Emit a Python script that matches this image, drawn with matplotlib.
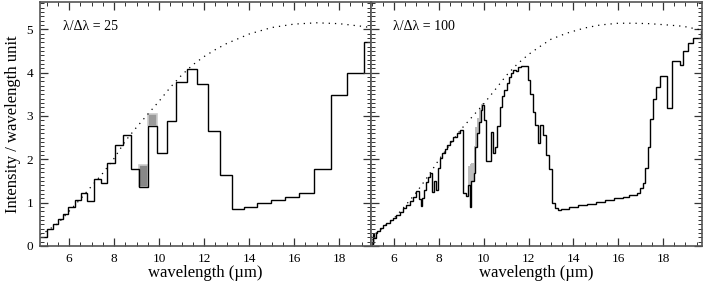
import matplotlib
matplotlib.use("Agg")
import matplotlib.pyplot as plt
from matplotlib.ticker import MultipleLocator

plt.rcParams['font.family'] = ['Liberation Serif', 'DejaVu Serif']

# dotted reference curve, left panel
x_curve_25 = [4.71, 5.0, 5.5, 6.0, 6.5, 7.0, 7.5, 8.0, 8.5, 9.0, 9.5, 10.0, 10.5, 11.0,
              11.5, 12.0, 12.5, 13.0, 14.0, 15.0, 16.0, 17.0, 18.0, 19.0, 19.42]
y_curve_25 = [0.26, 0.34, 0.52, 0.8, 1.08, 1.38, 1.68, 2.02, 2.42, 2.74, 3.04, 3.34, 3.66, 3.94,
              4.18, 4.37, 4.53, 4.67, 4.89, 5.04, 5.12, 5.15, 5.13, 5.07, 5.04]
# dotted reference curve, right panel
x_curve_100 = [4.97, 5.3, 6.0, 6.5, 7.0, 7.5, 8.0, 8.5, 9.0, 9.5, 10.0, 10.5, 11.0, 11.5,
               12.0, 12.5, 13.0, 13.7, 14.5, 15.2, 16.0, 16.7, 17.4, 18.2, 18.9, 19.74]
y_curve_100 = [0.2, 0.34, 0.64, 0.93, 1.24, 1.6, 1.99, 2.35, 2.7, 2.99, 3.28, 3.6, 3.93, 4.2,
               4.42, 4.6, 4.77, 4.91, 5.03, 5.1, 5.14, 5.14, 5.13, 5.1, 5.07, 4.98]

# lambda/dlambda = 25 spectrum (bin edges + values)
edges_25 = [4.71, 5.0, 5.27, 5.52, 5.75, 5.97, 6.27, 6.52, 6.81, 7.11, 7.41, 7.7, 8.04, 8.41,
            8.75, 9.12, 9.52, 9.92, 10.34, 10.75, 11.23, 11.7, 12.19, 12.71, 13.26, 13.79,
            14.37, 14.96, 15.6, 16.23, 16.9, 17.63, 18.34, 19.1, 19.42]
vals_25 = [0.2, 0.39, 0.51, 0.62, 0.74, 0.89, 1.05, 1.23, 1.04, 1.54, 1.45, 1.91, 2.32, 2.55,
           1.77, 1.35, 2.77, 2.15, 2.89, 3.79, 4.08, 3.73, 2.66, 1.64, 0.85, 0.91, 0.99, 1.05,
           1.12, 1.22, 1.78, 3.49, 3.99, 4.70]
# grey boxes on the 25 panel
box_edges = [9.12, 9.52, 9.92]
box_low = [1.35, 2.77]
box_high = [1.87, 3.05]

# lambda/dlambda = 100 spectrum
edges_100 = [5.0, 5.04, 5.08, 5.12, 5.18, 5.24, 5.35, 5.5, 5.65, 5.8, 5.95, 6.1, 6.25, 6.4,
             6.55, 6.7, 6.85, 7.0, 7.1, 7.18, 7.26, 7.34, 7.42, 7.5, 7.6, 7.7, 7.78, 7.88,
             7.96, 8.05, 8.15, 8.25, 8.35, 8.5, 8.65, 8.8, 8.95, 9.06, 9.2, 9.3, 9.38, 9.45,
             9.55, 9.62, 9.7, 9.78, 9.86, 9.94, 10.02, 10.08, 10.31, 10.4, 10.5, 10.61, 10.73,
             10.82, 10.92, 11.02, 11.12, 11.22, 11.32, 11.44, 11.55, 11.65, 11.99, 12.08,
             12.18, 12.3, 12.42, 12.52, 12.64, 12.76, 12.9, 13.04, 13.16, 13.3, 13.45, 13.8,
             14.2, 14.6, 15.0, 15.4, 15.8, 16.2, 16.5, 16.83, 16.98, 17.1, 17.2, 17.32, 17.42,
             17.55, 17.7, 17.88, 18.17, 18.39, 18.77, 18.9, 19.12, 19.32, 19.7, 19.74]
vals_100 = [0.15, 0.05, 0.28, 0.18, 0.3, 0.35, 0.42, 0.48, 0.54, 0.59, 0.65, 0.72, 0.79, 0.87,
            0.95, 1.04, 1.14, 1.26, 1.08, 0.92, 1.1, 1.3, 1.48, 1.6, 1.68, 1.25, 1.5, 1.3,
            1.8, 2.02, 2.15, 2.24, 2.32, 2.42, 2.52, 2.6, 2.68, 1.22, 1.15, 1.41, 0.91, 1.5,
            1.68, 2.29, 2.6, 2.87, 3.14, 3.26, 2.91, 1.97, 2.64, 2.14, 2.29, 2.76, 3.2,
            3.45, 3.6, 3.76, 3.9, 4.0, 4.07, 4.04, 4.12, 4.15, 3.83, 3.5,
            3.1, 2.8, 2.37, 2.79, 2.56, 2.1, 1.77, 1.0, 0.87, 0.83, 0.86, 0.9,
            0.94, 0.98, 1.02, 1.06, 1.1, 1.14, 1.18, 1.23, 1.33, 1.45, 1.79, 2.29, 2.92,
            3.4, 3.68, 3.92, 3.18, 4.26, 4.18, 4.49, 4.68, 4.81, 4.95]
# light grey band on the 100 panel
band_edges = [9.3, 9.38, 9.45, 9.55, 9.62, 9.7, 9.78, 9.86, 9.94, 10.02]
band_low = [1.41, 0.91, 1.5, 1.68, 2.29, 2.6, 2.87, 3.14, 3.26]
band_high = [1.85, 1.9, 1.91, 2.3, 2.75, 2.95, 3.15, 3.28, 3.3]

fig = plt.figure(figsize=(7.06, 2.83), dpi=100)
ax1 = fig.add_axes([40/706, 37/283, 331/706, 244/283])
ax2 = fig.add_axes([371/706, 37/283, 331/706, 244/283])


def style(ax):
    ax.set_ylim(0, 5.63)
    ax.xaxis.set_major_locator(MultipleLocator(2))
    ax.xaxis.set_minor_locator(MultipleLocator(0.5))
    ax.yaxis.set_major_locator(MultipleLocator(1))
    ax.yaxis.set_minor_locator(MultipleLocator(0.1))
    ax.tick_params(which='both', direction='in', top=True, right=True,
                   color='#333333', labelsize=9.5)
    ax.tick_params(which='major', length=6, width=0.9, pad=5)
    ax.tick_params(which='minor', length=3, width=0.7)
    for s in ax.spines.values():
        s.set_color('#555555')
        s.set_linewidth(1.2)
    ax.set_xlabel('wavelength (µm)', fontsize=12, labelpad=0)


# left panel
style(ax1)
ax1.set_xlim(4.71, 19.42)
ax1.plot(x_curve_25, y_curve_25, color='k', lw=0.9, linestyle=(0, (1, 4)))
ax1.stairs([box_high[0]], box_edges[:2], baseline=[box_low[0]], fill=True,
           facecolor='#888888', edgecolor='#cccccc', lw=1.2)
ax1.stairs([box_high[1]], box_edges[1:], baseline=[box_low[1]], fill=True,
           facecolor='#9a9a9a', edgecolor='#cccccc', lw=1.2)
ax1.stairs(vals_25, edges_25, baseline=None, color='k', lw=1.0)
ax1.set_ylabel('Intensity / wavelength unit', fontsize=12, labelpad=4)
ax1.text(0.07, 0.9, 'λ/Δλ = 25', transform=ax1.transAxes, fontsize=10,
         va='center', ha='left')

# right panel
style(ax2)
ax2.set_xlim(4.97, 19.74)
ax2.tick_params(labelleft=False)
ax2.plot(x_curve_100, y_curve_100, color='k', lw=0.9, linestyle=(0, (1, 4)))
ax2.stairs(band_high, band_edges, baseline=band_low, fill=True,
           facecolor='#bdbdbd', edgecolor='none')
ax2.stairs(vals_100, edges_100, baseline=None, color='k', lw=1.0)
ax2.text(0.067, 0.9, 'λ/Δλ = 100', transform=ax2.transAxes, fontsize=10,
         va='center', ha='left')

plt.savefig('out.png', dpi=100)
plt.close()
